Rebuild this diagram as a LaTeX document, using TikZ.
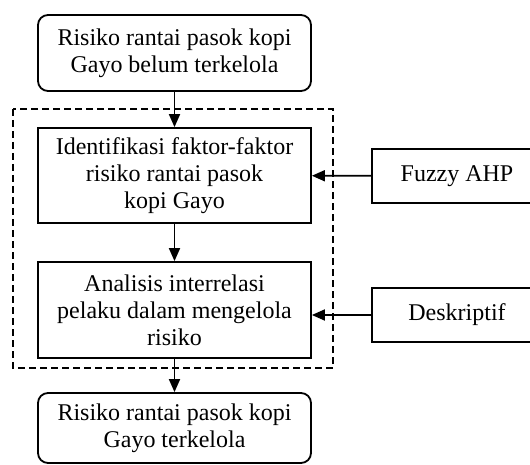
\documentclass[tikz,border=0pt]{standalone}
\usepackage{fontspec}
\setmainfont{Liberation Serif}
\usetikzlibrary{arrows.meta}
\begin{document}
\begin{tikzpicture}[x=1pt,y=-1pt,
    line width=1.8pt,
    >={Triangle[length=13pt,width=11pt]},
    box/.style={draw, minimum width=273pt, align=center, inner sep=0pt,
        font=\fontsize{24}{27}\selectfont},
    endbox/.style={box, rounded corners=10pt},
    toolbox/.style={draw, minimum width=170pt, minimum height=54pt,
        font=\fontsize{24}{27}\selectfont}]
    \useasboundingbox (0,0) rectangle (530,465);

    \node[endbox, minimum height=76pt] (awal) at (174.5,53) {Risiko rantai pasok kopi\\Gayo belum terkelola};
    \node[box, minimum height=95pt] (identifikasi) at (174.5,175.5) {Identifikasi faktor-faktor\\risiko rantai pasok\\kopi Gayo};
    \node[box, minimum height=96pt] (analisis) at (174.5,310) {Analisis interrelasi\\pelaku dalam mengelola\\risiko};
    \node[endbox, minimum height=70pt] (akhir) at (174.5,428) {Risiko rantai pasok kopi\\Gayo terkelola};

    \node[toolbox] (fahp) at (457,176) {Fuzzy AHP};
    \node[toolbox] (deskriptif) at (457,315) {Deskriptif};

    \draw[dashed, dash pattern=on 7pt off 4pt] (13,109) rectangle (333,368);

    \draw[->] (awal) -- (identifikasi);
    \draw[->] (identifikasi) -- (analisis);
    \draw[->] (analisis) -- (akhir);
    \draw[->] (fahp) -- (identifikasi);
    \draw[->] (deskriptif.west) -- (analisis.east |- deskriptif.west);
\end{tikzpicture}
\end{document}
